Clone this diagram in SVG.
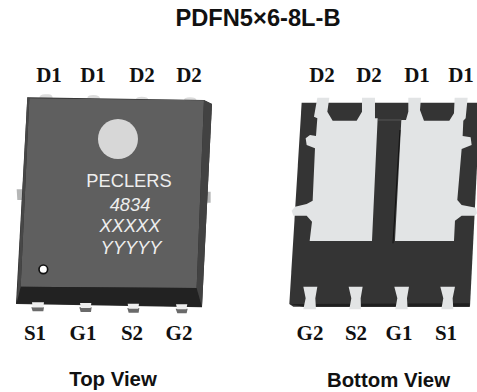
<svg xmlns="http://www.w3.org/2000/svg" width="477" height="392" viewBox="0 0 477 392">
<style>
.t{font-family:"Liberation Sans",Arial,sans-serif;font-weight:bold;font-size:20.4px;fill:#111;text-anchor:middle}
.p{font-family:"Liberation Serif","Times New Roman",serif;font-weight:bold;font-size:21px;fill:#111;text-anchor:middle}
.m{font-family:"Liberation Sans",Arial,sans-serif;font-size:18.3px;fill:#eee;text-anchor:middle}
.i{font-style:italic}
.pad{fill:#e2e4e5}
.lead{fill:#dcdcdc}
</style>
<rect width="477" height="392" fill="#fff"/>
<text class="t" style="font-size:23.7px" x="258" y="26">PDFN5×6-8L-B</text>
<g id="top-view">
<g transform="scale(0.3333) translate(0,150)">
<path class="lead" d="M118 145Q118 133 135 133H145Q158 133 158 145ZM262 145Q262 135 280 135Q300 135 300 146ZM408 148Q408 140 425 140Q445 140 445 150ZM552 150Q552 142 570 142Q590 142 590 152Z"/>
<path fill="#b5b6b6" d="M50 418H66V450H52ZM618 425H632V458H618Z"/>
<path fill="#6a6a6a" d="M94 772H132L130 784H98ZM238 772H275L273 786H242ZM382 774H418L416 788H386ZM527 776H563L560 790H532Z"/>
<path fill="#2c2c2c" d="M82 142L612 150L636 162L606 772L48 762Z"/>
<path fill="#5f5f5f" d="M88 145L612 151L590 714L62 710Z"/>
<path fill="#222" d="M62 710L590 714L606 770L48 760Z"/>
<path fill="#424242" d="M612 151L636 162L606 770L590 714Z"/>
<path fill="#474747" d="M82 142L88 145L62 710L50 760Z"/>
<path fill="#eee" d="M96 757H132L130 772H98ZM240 759H274L272 774H243ZM383 761H417L415 776H386ZM528 763H562L559 778H532Z"/>
<circle cx="354" cy="267" r="60" fill="#d7d7d7"/>
<circle cx="130" cy="658" r="13" fill="#fff" stroke="#111" stroke-width="5"/>
</g>
<text class="m" x="129" y="187">PECLERS</text>
<text class="m i" x="130" y="210.500">4834</text>
<text class="m i" x="130" y="232">XXXXX</text>
<text class="m i" x="131" y="254">YYYYY</text>
</g>
<g id="bottom-view">
<g transform="translate(240,50) scale(0.3333)">
<path fill="#343434" d="M185 158L711 158L711 350L690 770L160 770L148 762Z"/>
<path fill="#1f1f1f" d="M150 762L190 770H688L689 760L190 762Z"/>
<g class="pad">
<path d="M232 143H268L262 185L278 212H350L366 185L366 143H405L405 205H413L396 573H209L216 515L200 497H160L155 482L165 470L200 462L218 452L225 295L200 285L197 265L210 255L228 258L232 205L222 200Z"/>
<path d="M505 143H543L540 180L552 212H628L642 190L644 143H683L677 205L670 212L668 258L692 262L695 285L665 297L652 450L665 465L708 473L711 490L705 497L665 497L645 512L642 573H465L484 210H498L505 185Z"/>
<path d="M190 710H232L226 745L228 778H190L197 745ZM326 710H368L362 745L363 778H328L334 745ZM463 710H507L501 745L503 778H466L472 745ZM601 710H645L638 745L640 778H604L610 745Z"/>
</g>
<path d="M414 210H484" stroke="#666" stroke-width="2" fill="none"/>
<path d="M459 580L480 240" stroke="#111" stroke-width="3" fill="none"/>
</g>
</g>
<g id="labels">
<text class="p" x="49" y="82">D1</text><text class="p" x="93" y="82">D1</text><text class="p" x="142" y="82">D2</text><text class="p" x="189" y="82">D2</text>
<text class="p" x="322" y="82">D2</text><text class="p" x="369" y="82">D2</text><text class="p" x="417" y="82">D1</text><text class="p" x="461" y="82">D1</text>
<text class="p" x="35" y="340">S1</text><text class="p" x="83" y="340">G1</text><text class="p" x="132" y="340">S2</text><text class="p" x="179" y="340">G2</text>
<text class="p" x="310" y="340">G2</text><text class="p" x="356" y="340">S2</text><text class="p" x="399" y="340">G1</text><text class="p" x="446" y="340">S1</text>
</g>
<text class="t" x="113" y="386">Top View</text>
<text class="t" x="388.500" y="387">Bottom View</text>
</svg>
